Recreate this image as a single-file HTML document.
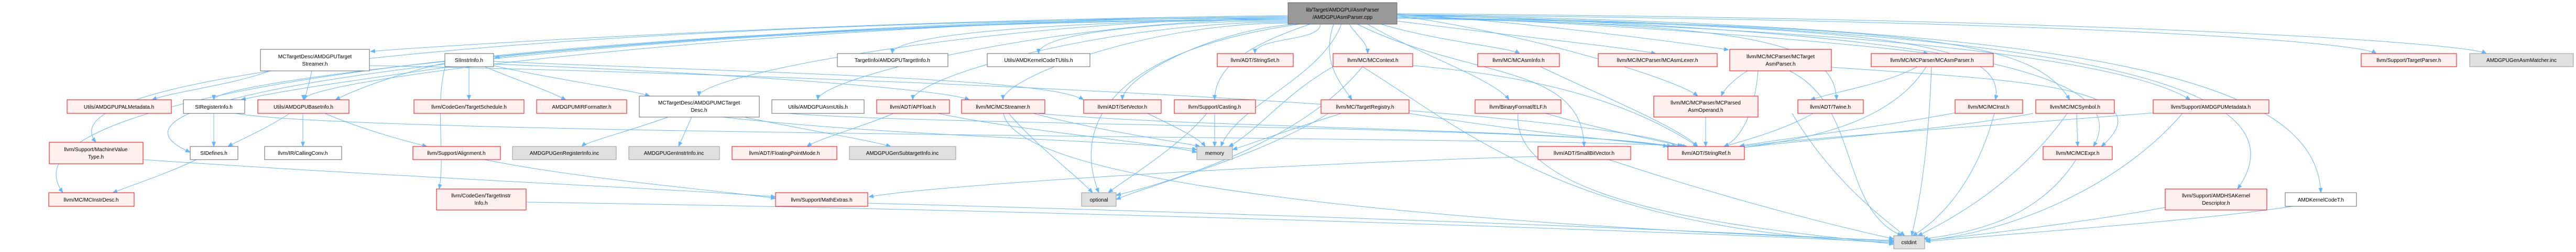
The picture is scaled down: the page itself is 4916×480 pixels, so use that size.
<!DOCTYPE html>
<html><head><meta charset="utf-8"><style>
html,body{margin:0;padding:0;background:#fff;}
svg{display:block;}
text{font-family:"Liberation Sans",sans-serif;font-size:10px;fill:#000;}
.e{fill:none;stroke:#63b8ff;stroke-width:1;}
.w{fill:#fff;stroke:#666;}
.r{fill:#fff0f0;stroke:#ff0000;}
.g{fill:#e0e0e0;stroke:#999;}
.root{fill:#999;stroke:#666;}
</style></head><body>
<svg width="4916" height="480" viewBox="0 0 4916 480" xmlns="http://www.w3.org/2000/svg">
<defs><marker id="a" markerWidth="10" markerHeight="8" refX="9" refY="4" orient="auto" markerUnits="userSpaceOnUse"><path d="M0,0 L10,4 L0,8 z" fill="#63b8ff"/></marker></defs>
<g marker-end="url(#a)">
<path class="e" d="M2458 30 C1433 38,408 150,408 190"/>
<path class="e" d="M2458 32 C1518 38,579 150,579 190"/>
<path class="e" d="M2458 34 C1320 38,60 120,183 271"/>
<path class="e" d="M2458 36 C1433 38,60 160,363 290"/>
<path class="e" d="M2458 38 C1316 40,-40 150,120 367"/>
<path class="e" d="M2458 30 C1580 38,800 90,707 98"/>
<path class="e" d="M2458 32 C1700 38,1000 100,944 110"/>
<path class="e" d="M2458 34 C1896 38,1334 143,1334 183"/>
<path class="e" d="M2458 36 C2009 38,1561 150,1561 190"/>
<path class="e" d="M2458 38 C2080 38,1703 62,1703 102"/>
<path class="e" d="M2458 40 C2220 40,1982 62,1982 102"/>
<path class="e" d="M2458 42 C2100 42,1742 150,1742 190"/>
<path class="e" d="M2520 46 C2520 80,2395 70,2395 102"/>
<path class="e" d="M2458 44 C2186 44,1914 150,1914 190"/>
<path class="e" d="M2470 46 C2300 60,2142 150,2142 190"/>
<path class="e" d="M2500 46 C2400 80,2318 120,2318 190"/>
<path class="e" d="M2480 46 C2100 100,2050 250,2097 367"/>
<path class="e" d="M2560 46 C2520 150,2360 200,2330 279"/>
<path class="e" d="M2575 46 C2590 70,2610 80,2610 102"/>
<path class="e" d="M2545 46 C2520 120,2560 160,2580 190"/>
<path class="e" d="M2610 46 C2700 100,2850 150,2880 190"/>
<path class="e" d="M2635 46 C2750 80,2880 90,2900 102"/>
<path class="e" d="M2666 40 C2900 70,3100 90,3160 102"/>
<path class="e" d="M2666 30 C2900 60,3200 150,3240 183"/>
<path class="e" d="M2590 46 C2800 150,3020 120,3023 279"/>
<path class="e" d="M2666 27 C2900 40,3200 80,3299 95"/>
<path class="e" d="M2666 30 C3200 50,3600 90,3680 102"/>
<path class="e" d="M2666 35 C3350 45,3500 80,3505 190"/>
<path class="e" d="M2666 33 C3600 50,3830 80,3808 190"/>
<path class="e" d="M2666 33 C3700 50,3880 80,3950 190"/>
<path class="e" d="M2666 28 C3800 60,4070 150,3995 279"/>
<path class="e" d="M2666 33 C3800 60,4100 140,4180 190"/>
<path class="e" d="M2666 30 C3900 50,4420 150,4270 360"/>
<path class="e" d="M2666 28 C4000 50,4420 150,4429 367"/>
<path class="e" d="M2666 28 C4000 40,4500 80,4535 102"/>
<path class="e" d="M2666 26 C4000 35,4700 80,4745 102"/>
<path class="e" d="M515 135 C450 160,330 175,290 190"/>
<path class="e" d="M595 135 C590 160,585 175,581 190"/>
<path class="e" d="M705 125 C1500 140,3000 200,3210 279"/>
<path class="e" d="M408 216 L408 279"/>
<path class="e" d="M450 216 C700 260,3000 260,3220 279"/>
<path class="e" d="M553 216 C500 250,450 270,435 279"/>
<path class="e" d="M578 216 L578 279"/>
<path class="e" d="M620 216 C700 250,780 270,815 279"/>
<path class="e" d="M375 304 C320 330,260 350,215 367"/>
<path class="e" d="M273 304 C800 340,1300 360,1480 375"/>
<path class="e" d="M895 127 L895 190"/>
<path class="e" d="M925 127 C980 150,1040 170,1080 190"/>
<path class="e" d="M942 125 C1050 150,1200 170,1240 183"/>
<path class="e" d="M849 120 C760 140,680 170,640 190"/>
<path class="e" d="M860 127 C700 150,550 170,460 190"/>
<path class="e" d="M849 130 C830 200,850 300,838 360"/>
<path class="e" d="M942 117 C1500 140,2000 150,2068 190"/>
<path class="e" d="M942 122 C1400 140,1800 170,1850 190"/>
<path class="e" d="M1275 223 C1200 250,1120 270,1110 279"/>
<path class="e" d="M1320 223 L1295 279"/>
<path class="e" d="M1380 223 C1700 260,2200 270,2284 285"/>
<path class="e" d="M1420 223 C1550 250,1650 265,1700 279"/>
<path class="e" d="M1505 216 C1800 240,3000 240,3190 279"/>
<path class="e" d="M1705 216 C1650 240,1560 265,1540 279"/>
<path class="e" d="M1790 216 C1950 250,2200 270,2284 290"/>
<path class="e" d="M1972 216 C2100 250,2250 270,2290 279"/>
<path class="e" d="M1925 216 C1980 280,2050 330,2085 367"/>
<path class="e" d="M1915 216 C1950 400,3400 450,3614 458"/>
<path class="e" d="M1980 216 C2300 245,3000 245,3183 279"/>
<path class="e" d="M2318 216 L2318 279"/>
<path class="e" d="M2303 216 C2250 280,2150 340,2115 367"/>
<path class="e" d="M2190 216 C2250 245,2290 265,2300 279"/>
<path class="e" d="M2544 127 C2450 180,2400 250,2345 279"/>
<path class="e" d="M2600 127 C2500 250,2300 330,2130 372"/>
<path class="e" d="M2600 127 C2800 250,3000 440,3614 462"/>
<path class="e" d="M2696 125 C3000 150,3150 220,3240 279"/>
<path class="e" d="M2560 216 C2450 250,2400 270,2352 285"/>
<path class="e" d="M2535 216 C2400 300,2200 350,2130 380"/>
<path class="e" d="M2689 216 C2900 250,3100 270,3200 279"/>
<path class="e" d="M2950 216 C3050 245,3150 265,3215 279"/>
<path class="e" d="M2897 216 C2880 400,3400 440,3614 465"/>
<path class="e" d="M2940 127 C3050 180,3200 240,3240 279"/>
<path class="e" d="M2935 298 C2500 310,1800 350,1658 375"/>
<path class="e" d="M3070 304 C3300 380,3500 430,3614 455"/>
<path class="e" d="M3255 223 L3255 279"/>
<path class="e" d="M3335 135 C3310 150,3290 170,3285 183"/>
<path class="e" d="M3355 135 C3350 200,3330 260,3290 279"/>
<path class="e" d="M3415 135 C3550 200,3510 400,3630 449"/>
<path class="e" d="M3495 128 C3800 150,4150 160,4010 279"/>
<path class="e" d="M3659 127 C3600 160,3500 175,3455 190"/>
<path class="e" d="M3676 127 C3600 250,3400 270,3320 282"/>
<path class="e" d="M3686 127 C3680 300,3660 400,3648 449"/>
<path class="e" d="M3460 216 C3400 250,3320 270,3290 279"/>
<path class="e" d="M3420 216 C3500 350,3600 420,3635 449"/>
<path class="e" d="M3731 215 C3600 240,3400 265,3320 278"/>
<path class="e" d="M3806 216 C3770 350,3700 420,3650 449"/>
<path class="e" d="M3880 216 C3700 250,3400 270,3320 282"/>
<path class="e" d="M3963 216 L3965 279"/>
<path class="e" d="M3945 216 C3850 350,3720 420,3660 449"/>
<path class="e" d="M3962 304 C3900 400,3800 440,3670 455"/>
<path class="e" d="M4109 215 C3800 240,3400 265,3320 280"/>
<path class="e" d="M4165 216 C4050 350,3850 440,3675 458"/>
<path class="e" d="M4132 395 C4000 420,3800 445,3675 458"/>
<path class="e" d="M4375 393 C4200 420,3900 440,3675 460"/>
<path class="e" d="M1656 387 C2500 410,3300 440,3614 460"/>
<path class="e" d="M1004 385 C2000 400,3200 440,3614 462"/>
<path class="e" d="M925 304 C1100 340,1350 360,1480 378"/>
</g>
<g>
<rect class="root" x="2458" y="5" width="208" height="41"/><text x="2562" y="22" text-anchor="middle">lib/Target/AMDGPU/AsmParser</text><text x="2562" y="36" text-anchor="middle">/AMDGPUAsmParser.cpp</text>
<rect class="w" x="497" y="94" width="208" height="41"/><text x="601" y="111" text-anchor="middle">MCTargetDesc/AMDGPUTarget</text><text x="601" y="125" text-anchor="middle">Streamer.h</text>
<rect class="r" x="128" y="190" width="199" height="26"/><text x="227" y="207" text-anchor="middle">Utils/AMDGPUPALMetadata.h</text>
<rect class="w" x="350" y="190" width="117" height="26"/><text x="408" y="207" text-anchor="middle">SIRegisterInfo.h</text>
<rect class="r" x="492" y="190" width="174" height="26"/><text x="579" y="207" text-anchor="middle">Utils/AMDGPUBaseInfo.h</text>
<rect class="r" x="94" y="271" width="179" height="41"/><text x="183" y="288" text-anchor="middle">llvm/Support/MachineValue</text><text x="183" y="302" text-anchor="middle">Type.h</text>
<rect class="w" x="363" y="279" width="91" height="25"/><text x="408" y="295" text-anchor="middle">SIDefines.h</text>
<rect class="w" x="505" y="279" width="147" height="25"/><text x="578" y="295" text-anchor="middle">llvm/IR/CallingConv.h</text>
<rect class="r" x="93" y="367" width="163" height="26"/><text x="174" y="384" text-anchor="middle">llvm/MC/MCInstrDesc.h</text>
<rect class="w" x="849" y="102" width="93" height="25"/><text x="895" y="118" text-anchor="middle">SIInstrInfo.h</text>
<rect class="r" x="790" y="190" width="210" height="26"/><text x="895" y="207" text-anchor="middle">llvm/CodeGen/TargetSchedule.h</text>
<rect class="r" x="1024" y="190" width="172" height="26"/><text x="1110" y="207" text-anchor="middle">AMDGPUMIRFormatter.h</text>
<rect class="w" x="1220" y="183" width="229" height="40"/><text x="1334" y="199" text-anchor="middle">MCTargetDesc/AMDGPUMCTarget</text><text x="1334" y="213" text-anchor="middle">Desc.h</text>
<rect class="w" x="1473" y="190" width="176" height="26"/><text x="1561" y="207" text-anchor="middle">Utils/AMDGPUAsmUtils.h</text>
<rect class="w" x="1598" y="102" width="211" height="25"/><text x="1703" y="118" text-anchor="middle">TargetInfo/AMDGPUTargetInfo.h</text>
<rect class="r" x="788" y="279" width="167" height="25"/><text x="871" y="295" text-anchor="middle">llvm/Support/Alignment.h</text>
<rect class="g" x="978" y="279" width="198" height="25"/><text x="1077" y="295" text-anchor="middle">AMDGPUGenRegisterInfo.inc</text>
<rect class="g" x="1200" y="279" width="173" height="25"/><text x="1286" y="295" text-anchor="middle">AMDGPUGenInstrInfo.inc</text>
<rect class="r" x="1397" y="279" width="200" height="25"/><text x="1497" y="295" text-anchor="middle">llvm/ADT/FloatingPointMode.h</text>
<rect class="g" x="1621" y="279" width="203" height="25"/><text x="1722" y="295" text-anchor="middle">AMDGPUGenSubtargetInfo.inc</text>
<rect class="r" x="833" y="360" width="171" height="40"/><text x="918" y="376" text-anchor="middle">llvm/CodeGen/TargetInstr</text><text x="918" y="390" text-anchor="middle">Info.h</text>
<rect class="r" x="1480" y="367" width="176" height="26"/><text x="1568" y="384" text-anchor="middle">llvm/Support/MathExtras.h</text>
<rect class="w" x="1884" y="102" width="196" height="25"/><text x="1982" y="118" text-anchor="middle">Utils/AMDKernelCodeTUtils.h</text>
<rect class="r" x="2323" y="102" width="145" height="25"/><text x="2395" y="118" text-anchor="middle">llvm/ADT/StringSet.h</text>
<rect class="r" x="1673" y="190" width="139" height="26"/><text x="1742" y="207" text-anchor="middle">llvm/ADT/APFloat.h</text>
<rect class="r" x="1835" y="190" width="159" height="26"/><text x="1914" y="207" text-anchor="middle">llvm/MC/MCStreamer.h</text>
<rect class="r" x="2068" y="190" width="148" height="26"/><text x="2142" y="207" text-anchor="middle">llvm/ADT/SetVector.h</text>
<rect class="r" x="2241" y="190" width="155" height="26"/><text x="2318" y="207" text-anchor="middle">llvm/Support/Casting.h</text>
<rect class="g" x="2284" y="279" width="68" height="25"/><text x="2318" y="295" text-anchor="middle">memory</text>
<rect class="g" x="2064" y="367" width="66" height="26"/><text x="2097" y="384" text-anchor="middle">optional</text>
<rect class="r" x="2544" y="102" width="152" height="25"/><text x="2620" y="118" text-anchor="middle">llvm/MC/MCContext.h</text>
<rect class="r" x="2820" y="102" width="156" height="25"/><text x="2898" y="118" text-anchor="middle">llvm/MC/MCAsmInfo.h</text>
<rect class="r" x="3050" y="102" width="227" height="25"/><text x="3163" y="118" text-anchor="middle">llvm/MC/MCParser/MCAsmLexer.h</text>
<rect class="r" x="2521" y="190" width="168" height="26"/><text x="2605" y="207" text-anchor="middle">llvm/MC/TargetRegistry.h</text>
<rect class="r" x="2815" y="190" width="164" height="26"/><text x="2897" y="207" text-anchor="middle">llvm/BinaryFormat/ELF.h</text>
<rect class="r" x="3156" y="183" width="199" height="40"/><text x="3255" y="199" text-anchor="middle">llvm/MC/MCParser/MCParsed</text><text x="3255" y="213" text-anchor="middle">AsmOperand.h</text>
<rect class="r" x="2935" y="279" width="177" height="25"/><text x="3023" y="295" text-anchor="middle">llvm/ADT/SmallBitVector.h</text>
<rect class="r" x="3183" y="279" width="146" height="25"/><text x="3256" y="295" text-anchor="middle">llvm/ADT/StringRef.h</text>
<rect class="r" x="3301" y="94" width="194" height="41"/><text x="3398" y="111" text-anchor="middle">llvm/MC/MCParser/MCTarget</text><text x="3398" y="125" text-anchor="middle">AsmParser.h</text>
<rect class="r" x="3571" y="102" width="233" height="25"/><text x="3687" y="118" text-anchor="middle">llvm/MC/MCParser/MCAsmParser.h</text>
<rect class="r" x="3431" y="190" width="125" height="26"/><text x="3493" y="207" text-anchor="middle">llvm/ADT/Twine.h</text>
<rect class="r" x="3731" y="190" width="129" height="26"/><text x="3795" y="207" text-anchor="middle">llvm/MC/MCInst.h</text>
<rect class="r" x="3885" y="190" width="150" height="26"/><text x="3960" y="207" text-anchor="middle">llvm/MC/MCSymbol.h</text>
<rect class="r" x="3899" y="279" width="132" height="25"/><text x="3965" y="295" text-anchor="middle">llvm/MC/MCExpr.h</text>
<rect class="g" x="3614" y="449" width="59" height="25"/><text x="3643" y="465" text-anchor="middle">cstdint</text>
<rect class="r" x="4506" y="102" width="182" height="25"/><text x="4597" y="118" text-anchor="middle">llvm/Support/TargetParser.h</text>
<rect class="g" x="4713" y="102" width="198" height="25"/><text x="4812" y="118" text-anchor="middle">AMDGPUGenAsmMatcher.inc</text>
<rect class="r" x="4109" y="190" width="221" height="26"/><text x="4219" y="207" text-anchor="middle">llvm/Support/AMDGPUMetadata.h</text>
<rect class="r" x="4132" y="360" width="194" height="40"/><text x="4229" y="376" text-anchor="middle">llvm/Support/AMDHSAKernel</text><text x="4229" y="390" text-anchor="middle">Descriptor.h</text>
<rect class="w" x="4361" y="367" width="136" height="26"/><text x="4429" y="384" text-anchor="middle">AMDKernelCodeT.h</text>
</g>
</svg>
</body></html>
